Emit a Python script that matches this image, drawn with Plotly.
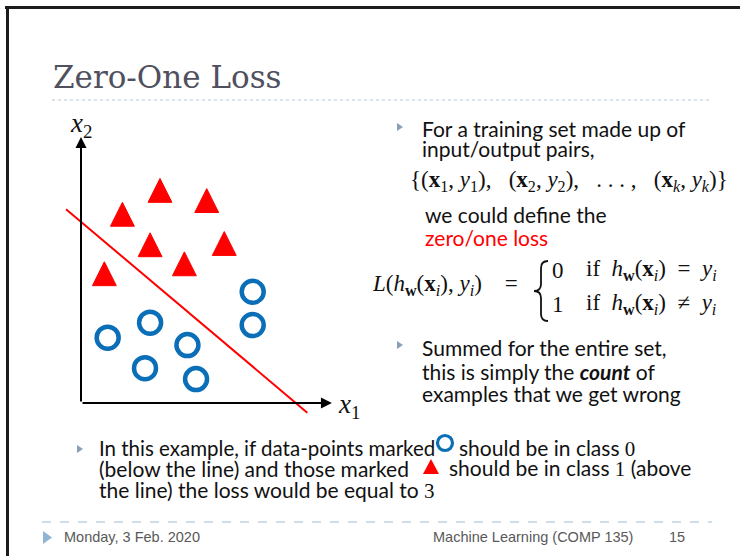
import plotly.graph_objects as go

W, H = 740, 556

# class 1 examples (red triangles, above the line)
tri_x = [3.11, 4.95, 1.63, 2.72, 5.64, 4.07, 0.92]
tri_y = [8.37, 7.97, 7.43, 6.23, 6.28, 5.48, 5.09]
# class 0 examples (blue circles, below the line)
circ_x = [6.76, 6.76, 2.72, 1.05, 4.19, 2.52, 4.53]
circ_y = [4.38, 3.07, 3.16, 2.57, 2.28, 1.37, 0.94]
# the separating line
line_x = [-0.59, 8.91]
line_y = [7.63, -0.38]
# axis arrow tips
x_tip, y_tip = 9.88, 10.47

RED = "#ff0000"
BLUE = "#0b6fb8"
BODY = "Lato"
SERIF = "Liberation Serif"
INK = "#111111"


def px(x):
    return x / W


def py(y):
    return 1 - y / H


# origin of the little diagram sits at pixel (81, 403), 25.4 px per unit
ox, oy, unit = 81, 403, 25.4
xr = [-1.0, 10.8]
yr = [-0.9, 10.8]
xdom = [px(ox + xr[0] * unit), px(ox + xr[1] * unit)]
ydom = [py(oy - yr[0] * unit), py(oy - yr[1] * unit)]

# triangles as filled polygons around each centre
s = 0.47
tx, ty = [], []
for x, y in zip(tri_x, tri_y):
    tx += [x - s, x + s, x, x - s, None]
    ty += [y - s, y - s, y + s, y - s, None]

fig = go.Figure()
fig.add_trace(go.Scatter(x=line_x, y=line_y, mode="lines",
                         line=dict(color=RED, width=2), hoverinfo="skip"))
fig.add_trace(go.Scatter(x=tx, y=ty, mode="lines", fill="toself",
                         fillcolor=RED, line=dict(color=RED, width=1)))
fig.add_trace(go.Scatter(x=circ_x, y=circ_y, mode="markers",
                         marker=dict(symbol="circle-open", size=22, color=BLUE,
                                     line=dict(color=BLUE, width=4.5))))


def label(x, y, text, size=21, color=INK, family=BODY, anchor="left"):
    return dict(x=px(x), y=py(y), xref="paper", yref="paper", text=text,
                showarrow=False, xanchor=anchor, yanchor="middle",
                font=dict(size=size, color=color, family=family))


def digit(d):
    return "<span style='font-family:Liberation Serif'>%s</span>" % d


sp = "&nbsp;"
hw_xi = "<i>h</i><sub><b>w</b></sub>(<b>x</b><sub><i>i</i></sub>)"
yi = "<i>y</i><sub><i>i</i></sub>"
set_txt = ("{(<b>x</b><sub>1</sub>, <i>y</i><sub>1</sub>)," + sp + sp + " "
           "(<b>x</b><sub>2</sub>, <i>y</i><sub>2</sub>)," + sp + sp + " . . . ," + sp + sp + " "
           "(<b>x</b><sub><i>k</i></sub>, <i>y</i><sub><i>k</i></sub>)}")

ann = [
    # axes with arrow heads
    dict(x=x_tip, y=0, ax=0, ay=0, xref="x", yref="y", axref="x", ayref="y",
         text="", showarrow=True, arrowhead=2, arrowsize=1.1, arrowwidth=2,
         arrowcolor="black"),
    dict(x=0, y=y_tip, ax=0, ay=0, xref="x", yref="y", axref="x", ayref="y",
         text="", showarrow=True, arrowhead=2, arrowsize=1.1, arrowwidth=2,
         arrowcolor="black"),
    label(68, 125, "<i>x</i><sub>2</sub>", 27, INK, SERIF),
    label(336, 406, "<i>x</i><sub>1</sub>", 27, INK, SERIF),
    # title
    label(51, 77, "Zero-One Loss", 31, "#50505f", "DejaVu Serif"),
    # right column
    label(420, 128, "For a training set made up of"),
    label(420, 148, "input/output pairs,"),
    label(408, 181, set_txt, 23, INK, SERIF),
    label(423, 214, "we could define the"),
    label(423, 237, "zero/one loss", color=RED),
    label(370, 285, "<i>L</i>(" + hw_xi + ", " + yi + ") " + sp + sp + sp + "=", 23, INK, SERIF),
    label(550, 270, "0", 23, INK, SERIF),
    label(550, 304, "1", 23, INK, SERIF),
    label(584, 270, "if" + sp + " " + hw_xi + " " + sp + "=" + sp + " " + yi, 23, INK, SERIF),
    label(584, 304, "if" + sp + " " + hw_xi + " " + sp + "\u2260" + sp + " " + yi, 23, INK, SERIF),
    label(420, 347, "Summed for the entire set,"),
    label(420, 371, "this is simply the <b><i>count</i></b> of"),
    label(420, 393, "examples that we get wrong"),
    # bottom paragraph
    label(97, 448, "In this example, if data-points marked", 20.5),
    label(457, 448, "should be in class " + digit("0")),
    label(97, 468, "(below the line) and those marked"),
    label(447, 468, "should be in class " + digit("1") + " (above"),
    label(97, 490, "the line) the loss would be equal to " + digit("3")),
    # footer
    label(62, 537, "Monday, 3 Feb. 2020", 14.5, "#595959", "Liberation Sans"),
    label(431, 537, "Machine Learning (COMP 135)", 14.5, "#595959", "Liberation Sans"),
    label(667, 537, "15", 14.5, "#595959", "Liberation Sans"),
]


def path(cmds):
    out = []
    for c, *pts in cmds:
        out.append(c + " " + " ".join("%f,%f" % (px(a), py(b)) for a, b in pts))
    return " ".join(out)


def tri_path(pts):
    return path([("M", pts[0])] + [("L", p) for p in pts[1:]]) + " Z"


def bullet(x, y, color="#8a9fb6"):
    return dict(type="path", xref="paper", yref="paper", line=dict(width=0),
                fillcolor=color,
                path=tri_path([(x, y - 4), (x + 6, y), (x, y + 4)]))


brace = path([
    ("M", (548, 261)), ("Q", (541, 261), (541, 268)), ("L", (541, 284)),
    ("Q", (541, 291), (534, 291)), ("Q", (541, 291), (541, 298)),
    ("L", (541, 314)), ("Q", (541, 321), (548, 321)),
])

shapes = [
    # slide frame
    dict(type="line", xref="paper", yref="paper", x0=px(5), x1=1.0,
         y0=py(7.5), y1=py(7.5), line=dict(color="#1c1c1c", width=3)),
    dict(type="line", xref="paper", yref="paper", x0=px(7.5), x1=px(7.5),
         y0=py(6), y1=0, line=dict(color="#1c1c1c", width=3)),
    # title rule and footer rule
    dict(type="line", xref="paper", yref="paper", x0=px(52), x1=px(712),
         y0=py(100), y1=py(100), line=dict(color="#b7c6d6", width=1, dash="dot")),
    dict(type="line", xref="paper", yref="paper", x0=px(42), x1=px(712),
         y0=py(522), y1=py(522), line=dict(color="#9dbbd9", width=1, dash="dash")),
    # bullets
    bullet(397, 127), bullet(397, 345), bullet(77, 449),
    dict(type="path", xref="paper", yref="paper", line=dict(width=0),
         fillcolor="#8fb4d4", path=tri_path([(43, 531), (52, 537.5), (43, 544)])),
    # curly brace of the piecewise definition
    dict(type="path", xref="paper", yref="paper", path=brace,
         line=dict(color=INK, width=1.8)),
    # key symbols inside the paragraph
    dict(type="circle", xref="paper", yref="paper", x0=px(437.5), x1=px(452.5),
         y0=py(450.5), y1=py(435.5), line=dict(color=BLUE, width=3.2)),
    dict(type="path", xref="paper", yref="paper", line=dict(width=0),
         fillcolor=RED, path=tri_path([(423, 474), (439, 474), (431, 459)])),
]

fig.update_layout(
    width=W, height=H,
    margin=dict(l=0, r=0, t=0, b=0),
    paper_bgcolor="white", plot_bgcolor="white",
    showlegend=False,
    xaxis=dict(domain=xdom, range=xr, visible=False, fixedrange=True),
    yaxis=dict(domain=ydom, range=yr, visible=False, fixedrange=True),
    annotations=ann,
    shapes=shapes,
)

fig.write_html("out.html", config={"displayModeBar": False},
               post_script="document.body.style.margin='0px';")
